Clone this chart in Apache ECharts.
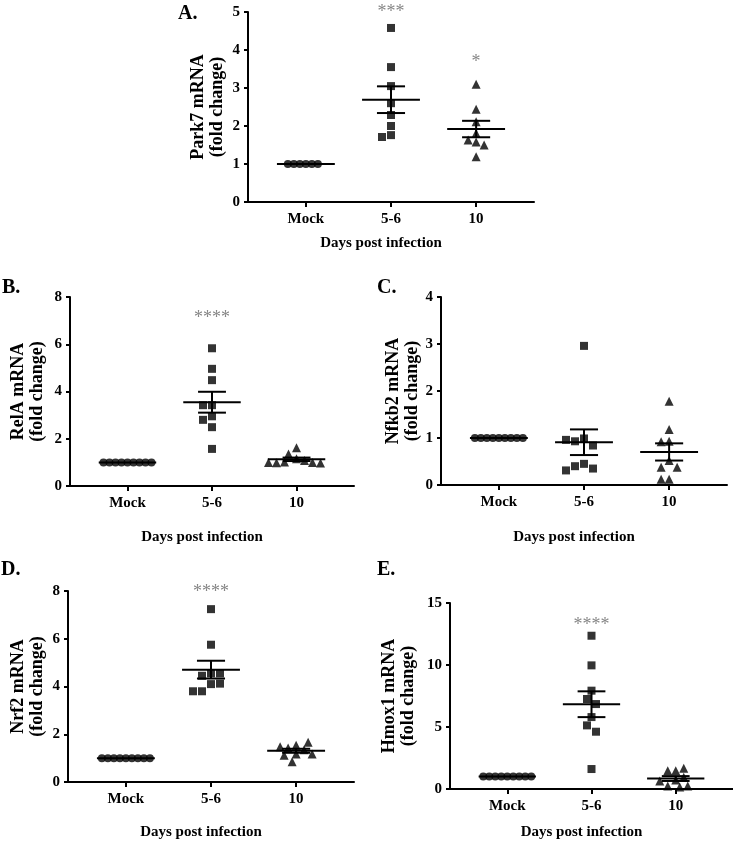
<!DOCTYPE html>
<html>
<head>
<meta charset="utf-8">
<script src="https://cdn.jsdelivr.net/npm/echarts@6/dist/echarts.min.js"></script>
<style>
  html, body { margin: 0; padding: 0; background: #fff; }
  #main { width: 733px; height: 842px; }
</style>
</head>
<body>
<div id="main"></div>
<script>
// categories and values
var categories = ['Mock', '5-6', '10'];

var park7Mock = [1, 1, 1, 1, 1, 1];
var park7D56 = [4.58, 3.55, 3.05, 2.6, 2.29, 2.0, 1.76, 1.71];
var park7D10 = [3.1, 2.44, 2.11, 1.81, 1.63, 1.58, 1.5, 1.19];

var relaMock = [1, 1, 1, 1, 1, 1, 1, 1, 1];
var relaD56 = [5.83, 4.96, 4.48, 3.42, 3.42, 2.95, 2.8, 2.49, 1.57];
var relaD10 = [1.62, 1.35, 1.15, 1.08, 1.02, 1.0, 0.98, 0.97, 1.0];

var nfkb2Mock = [1, 1, 1, 1, 1, 1, 1, 1, 1];
var nfkb2D56 = [2.96, 0.99, 0.93, 0.84, 0.96, 0.45, 0.40, 0.35, 0.31];
var nfkb2D10 = [1.78, 1.18, 0.93, 0.92, 0.52, 0.38, 0.38, 0.12, 0.12];

var nrf2Mock = [1, 1, 1, 1, 1, 1, 1, 1, 1];
var nrf2D56 = [7.24, 5.75, 4.55, 4.45, 4.55, 4.1, 4.12, 3.8, 3.8];
var nrf2D10 = [1.54, 1.17, 1.42, 0.85, 1.35, 1.12, 1.48, 1.17, 1.67];

var hmox1Mock = [1, 1, 1, 1, 1, 1, 1, 1, 1];
var hmox1D56 = [12.36, 9.97, 7.93, 7.26, 6.85, 5.8, 5.13, 4.62, 1.61];
var hmox1D10 = [1.48, 1.48, 1.67, 0.94, 0.73, 0.24, 0.16, 0.24, 0.65];

// significance marks: text and level per category
var park7Stars = ['', '***', '*'];
var park7StarLevel = [0, 5.12, 3.8];
var relaStars = ['', '****', ''];
var relaStarLevel = [0, 7.3, 0];
var nrf2Stars = ['', '****', ''];
var nrf2StarLevel = [0, 8.15, 0];
var hmox1Stars = ['', '****', ''];
var hmox1StarLevel = [0, 13.6, 0];

var serif = '"Liberation Serif", "DejaVu Serif", serif';
var symbols = ['circle', 'rect', 'triangle'];
var swarmDist = [6, 9, 8];

var panels = [
    {letter: 'A.', lx: 178, ly: 4, name: 'Park7 mRNA', groups: [park7Mock, park7D56, park7D10], max: 5, interval: 1,
     grid: {left: 248, top: 12, width: 286, height: 190}, yGap: 21, xGap: 34, stars: park7Stars, starLevel: park7StarLevel},
    {letter: 'B.', lx: 2, ly: 278, name: 'RelA mRNA', groups: [relaMock, relaD56, relaD10], max: 8, interval: 2,
     grid: {left: 70, top: 297, width: 284, height: 189}, yGap: 23, xGap: 44, stars: relaStars, starLevel: relaStarLevel},
    {letter: 'C.', lx: 377, ly: 278, name: 'Nfkb2 mRNA', groups: [nfkb2Mock, nfkb2D56, nfkb2D10], max: 4, interval: 1,
     grid: {left: 441, top: 297, width: 286, height: 188}, yGap: 9, xGap: 45, stars: ['', '', ''], starLevel: [0, 0, 0]},
    {letter: 'D.', lx: 1, ly: 560, name: 'Nrf2 mRNA', groups: [nrf2Mock, nrf2D56, nrf2D10], max: 8, interval: 2,
     grid: {left: 68, top: 591, width: 286, height: 191}, yGap: 21, xGap: 43, stars: nrf2Stars, starLevel: nrf2StarLevel},
    {letter: 'E.', lx: 377, ly: 560, name: 'Hmox1 mRNA', groups: [hmox1Mock, hmox1D56, hmox1D10], max: 15, interval: 5,
     grid: {left: 450, top: 603, width: 283, height: 186}, yGap: 32, xGap: 36, stars: hmox1Stars, starLevel: hmox1StarLevel}
];

var xMin = -0.68, xMax = 2.68;

function mean(a) {
    var s = 0;
    a.forEach(function(v){ s += v; });
    return s / a.length;
}
function sem(a) {
    var m = mean(a), s = 0;
    a.forEach(function(v){ s += (v - m) * (v - m); });
    return Math.sqrt(s / (a.length - 1)) / Math.sqrt(a.length);
}

// simple beeswarm: spread points sideways so they don't sit on top of each other
function swarm(vals, pxY, pxX, dist) {
    var placed = [];
    var step = dist / 2;
    return vals.map(function(v){
        var y = v * pxY, off = 0;
        for (var k = 0; k < 60; k++) {
            var n = Math.ceil(k / 2);
            var cand = (k % 2 ? -1 : 1) * n * step;
            var ok = placed.every(function(p){
                var dx = p[0] - cand, dy = p[1] - y;
                return Math.sqrt(dx * dx + dy * dy) >= dist - 0.01;
            });
            if (ok) { off = cand; break; }
        }
        placed.push([off, y]);
        return off / pxX;
    });
}

var grids = [], xAxes = [], yAxes = [], series = [], graphics = [];

panels.forEach(function(p, i){
    grids.push(p.grid);
    var pxX = p.grid.width / (xMax - xMin);
    var pxY = p.grid.height / p.max;

    xAxes.push({
        gridIndex: i, type: 'value', min: xMin, max: xMax,
        name: 'Days post infection', nameLocation: 'middle', nameGap: p.xGap,
        nameTextStyle: {fontFamily: serif, fontWeight: 'bold', fontSize: 15, color: '#000', padding: [0, 20, 0, 0]},
        axisLine: {onZero: false, lineStyle: {color: '#000', width: 2}},
        axisTick: {customValues: [0, 1, 2], length: 5, lineStyle: {color: '#000', width: 2}},
        axisLabel: {customValues: [0, 1, 2], margin: 10, fontFamily: serif, fontWeight: 'bold', fontSize: 15, color: '#000',
            formatter: function(v){ return categories[Math.round(v)]; }},
        splitLine: {show: false}
    });
    yAxes.push({
        gridIndex: i, type: 'value', min: 0, max: p.max, interval: p.interval,
        name: p.name + '\n(fold change)', nameLocation: 'middle', nameGap: p.yGap, nameRotate: 90,
        nameTextStyle: {fontFamily: serif, fontWeight: 'bold', fontSize: 18, lineHeight: 19, color: '#000'},
        axisLine: {show: true, onZero: false, lineStyle: {color: '#000', width: 2}},
        axisTick: {show: true, length: 4, lineStyle: {color: '#000', width: 2}},
        axisLabel: {margin: 8, fontFamily: serif, fontWeight: 'bold', fontSize: 15, color: '#000'},
        splitLine: {show: false}
    });

    p.groups.forEach(function(g, j){
        var offs = swarm(g, pxY, pxX, swarmDist[j]);
        series.push({
            type: 'scatter', xAxisIndex: i, yAxisIndex: i,
            symbol: symbols[j], symbolSize: j === 2 ? 9 : 8,
            itemStyle: {color: '#000'},
            data: g.map(function(v, k){ return [j + offs[k], v]; }),
            z: 2
        });
    });

    series.push({
        type: 'custom', xAxisIndex: i, yAxisIndex: i, z: 3,
        data: p.groups.map(function(g, j){ return [j, mean(g), sem(g)]; }),
        renderItem: function(params, api){
            var x = api.value(0), m = api.value(1), s = api.value(2);
            var st = {stroke: '#000', lineWidth: 2};
            var a = api.coord([x - 0.34, m]), b = api.coord([x + 0.34, m]);
            var kids = [{type: 'line', shape: {x1: a[0], y1: a[1], x2: b[0], y2: b[1]}, style: st}];
            if (s > 0) {
                var top = api.coord([x, m + s]), bot = api.coord([x, m - s]);
                var w = 0.165 * pxX;
                kids.push({type: 'line', shape: {x1: top[0], y1: top[1], x2: bot[0], y2: bot[1]}, style: st});
                kids.push({type: 'line', shape: {x1: top[0] - w, y1: top[1], x2: top[0] + w, y2: top[1]}, style: st});
                kids.push({type: 'line', shape: {x1: bot[0] - w, y1: bot[1], x2: bot[0] + w, y2: bot[1]}, style: st});
            }
            return {type: 'group', children: kids};
        }
    });

    var starData = [];
    p.stars.forEach(function(t, j){
        if (t) starData.push({value: [j, p.starLevel[j]], name: t});
    });
    if (starData.length) {
        series.push({
            type: 'scatter', xAxisIndex: i, yAxisIndex: i, clip: false,
            symbolSize: 1, itemStyle: {color: 'rgba(0,0,0,0)'},
            label: {show: true, position: 'inside', offset: [0, 5], formatter: '{b}', fontFamily: serif,
                fontSize: 18, color: '#666'},
            data: starData
        });
    }

    graphics.push({type: 'text', left: p.lx, top: p.ly,
        style: {text: p.letter, font: 'bold 20px ' + serif, fill: '#000'}});
});

var myChart = echarts.init(document.getElementById('main'));
myChart.setOption({
    backgroundColor: '#fff',
    animation: false,
    grid: grids,
    xAxis: xAxes,
    yAxis: yAxes,
    series: series,
    graphic: graphics
});
window.addEventListener('resize', function() {
    myChart.resize();
});
</script>
</body>
</html>
